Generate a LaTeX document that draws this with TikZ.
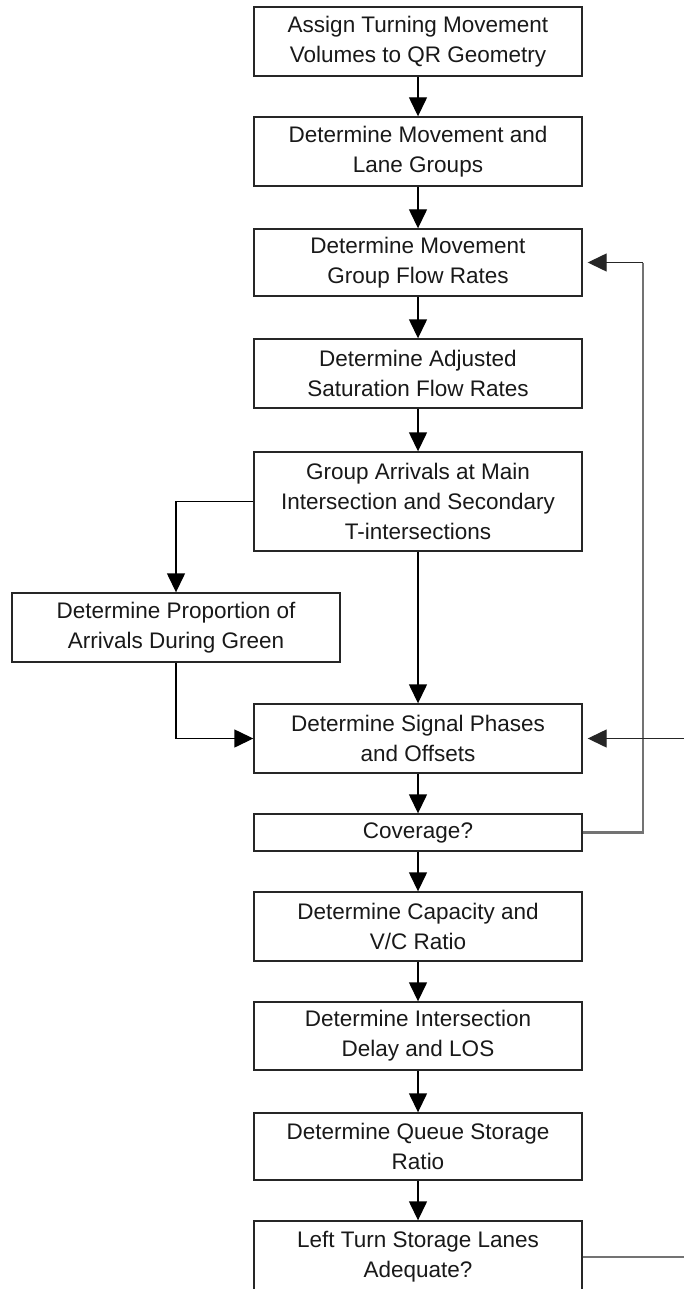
\documentclass[tikz,border=0pt]{standalone}
\usepackage{fontspec}
\setmainfont{Liberation Sans}
\usetikzlibrary{arrows.meta}
\tikzset{
  box/.style={draw=black!85, line width=1.4pt, fill=white, minimum width=328pt, inner sep=0pt, align=center, font=\fontsize{22.5}{30}\selectfont, text=black!90},
  flow/.style={draw=black, line width=1.4pt, -{Triangle[length=19pt,width=18pt]}},
  loopgray/.style={draw=black!55, line width=2.4pt},
  backflow/.style={draw=black!85, line width=1.4pt, -{Triangle[length=19pt,width=18pt]}, shorten >=5pt},
}
\begin{document}
\begin{tikzpicture}[x=1pt,y=-1pt]
\clip (0,0) rectangle (684,1289);
\fill[white] (0,0) rectangle (684,1289);
\node[box, minimum height=69pt] (b1) at (418,41.5) {Assign Turning Movement\\Volumes to QR Geometry};
\node[box, minimum height=69pt] (b2) at (418,151.5) {Determine Movement and\\Lane Groups};
\node[box, minimum height=67pt] (b3) at (418,262.5) {Determine Movement\\Group Flow Rates};
\node[box, minimum height=69pt] (b4) at (418,373.5) {Determine Adjusted\\Saturation Flow Rates};
\node[box, minimum height=99pt] (b5) at (418,501.5) {Group Arrivals at Main\\Intersection and Secondary\\T-intersections};
\node[box, minimum height=69pt] (bp) at (176,627.5) {Determine Proportion of\\Arrivals During Green};
\node[box, minimum height=69pt] (b6) at (418,738.5) {Determine Signal Phases\\and Offsets};
\node[box, minimum height=37pt] (b7) at (418,832.5) {Coverage?};
\node[box, minimum height=69pt] (b8) at (418,926.5) {Determine Capacity and\\V/C Ratio};
\node[box, minimum height=68pt] (b9) at (418,1036) {Determine Intersection\\Delay and LOS};
\node[box, minimum height=67pt] (b10) at (418,1146.5) {Determine Queue Storage\\Ratio};
\node[box, minimum height=72pt] (b11) at (418,1257) {Left Turn Storage Lanes\\Adequate?};

\coordinate (loopc) at (643,262.5);
\coordinate (outc) at (700,738.5);

\draw[flow] (b1) -- (b2);
\draw[flow] (b2) -- (b3);
\draw[flow] (b3) -- (b4);
\draw[flow] (b4) -- (b5);
\draw[flow] (b5.west) -| (bp.north);
\draw[flow] (b5) -- (b6);
\draw[flow] (bp.south) |- (b6.west);
\draw[flow] (b6) -- (b7);
\draw[flow] (b7) -- (b8);
\draw[flow] (b8) -- (b9);
\draw[flow] (b9) -- (b10);
\draw[flow] (b10) -- (b11);

\draw[loopgray] (b7.east) -| (loopc);
\draw[backflow] (loopc) -- (b3.east);

\draw[loopgray] (b11.east) -| (outc);
\draw[backflow] (outc) -- (b6.east);
\end{tikzpicture}
\end{document}
